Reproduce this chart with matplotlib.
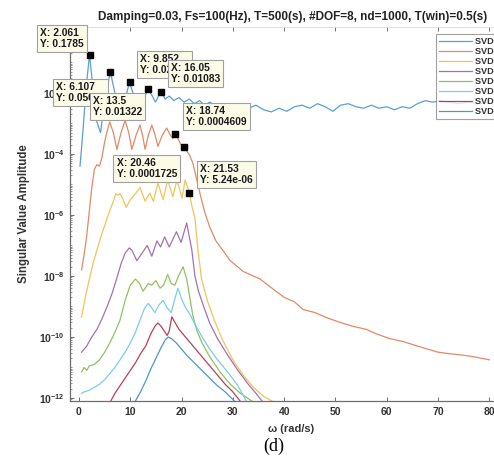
import numpy as np
import matplotlib
matplotlib.use("Agg")
import matplotlib.pyplot as plt
from matplotlib.ticker import FixedLocator, NullFormatter

plt.rcParams['font.family'] = ['Liberation Sans', 'DejaVu Sans']
plt.rcParams['mathtext.fontset'] = 'custom'
plt.rcParams['mathtext.rm'] = 'Liberation Sans:bold'
plt.rcParams['mathtext.default'] = 'rm'

# ---- datos (x en rad/s, y como log10 de la amplitud) ----
svd1_x = [0.2, 0.8, 1.4, 2.061, 2.7, 3.4, 4.2, 5.0, 6.107, 7.0, 8.0, 9.0, 9.852, 10.7, 11.7,
          12.6, 13.5, 14.3, 14.9, 15.5, 16.05, 16.8, 17.6, 18.5, 19.5, 20.5, 21.5, 22.5, 23.5,
          24.5, 25.5, 27, 28.5, 30, 31.5, 33, 34.5, 36, 37.5, 39, 40.5, 42, 43.5, 45, 46.5, 48,
          49.5, 51, 52.5, 54, 55.5, 57, 58.5, 60, 61.5, 63, 64.5, 66, 67.5, 69, 70.5, 72, 74, 76,
          78, 80]
svd1_y = [-4.4, -3.2, -1.8, -0.748, -1.8, -2.9, -3.3, -2.3, -1.296, -2.0, -2.7, -2.2, -1.64,
          -2.1, -2.55, -2.2, -1.879, -2.1, -2.3, -2.1, -1.965, -2.2, -2.1, -2.25, -2.15, -2.3,
          -2.2, -2.35, -2.25, -2.4, -2.3, -2.45, -2.35, -2.5, -2.4, -2.5, -2.4, -2.55, -2.62,
          -2.5, -2.6, -2.45, -2.4, -2.5, -2.35, -2.45, -2.6, -2.4, -2.35, -2.45, -2.5, -2.4,
          -2.5, -2.45, -2.55, -2.45, -2.5, -2.35, -2.25, -2.3, -2.25, -2.3, -2.35, -2.3, -2.35,
          -2.3]

svd2_x = [0.5, 1.0, 1.5, 2.0, 2.5, 3.0, 3.5, 4.0, 4.5, 5.0, 5.5, 6.0, 6.7, 7.4, 8.2, 9.0, 9.7,
          10.3, 11.1, 11.9, 12.4, 12.9, 13.5, 14.2, 14.8, 15.4, 16.2, 17.1, 17.7, 18.3, 18.74,
          19.3, 19.9, 20.46, 21.0, 21.6, 22.2, 22.9, 23.6, 24.5, 25.5, 26.7, 28.0, 29.5, 32.0,
          35.3, 38.0, 40.0, 42.0, 43.7, 46.0, 48.0, 50.5, 53.4, 56.0, 58.0, 60.5, 63.2, 66.0,
          68.0, 70.0, 72.3, 75.0, 77.0, 80.0]
svd2_y = [-7.8, -7.3, -6.7, -5.9, -5.1, -4.5, -4.35, -4.4, -4.1, -3.6, -3.25, -2.95, -3.3,
          -3.85, -3.3, -2.9, -3.3, -3.85, -3.4, -3.05, -3.4, -3.85, -3.4, -3.05, -3.35, -3.75,
          -3.4, -3.15, -3.35, -3.5, -3.336, -3.5, -3.7, -3.763, -3.9, -4.05, -4.3, -4.8, -5.3,
          -5.9, -6.4, -6.85, -7.15, -7.5, -7.85, -8.1, -8.45, -8.7, -8.85, -9.1, -9.2, -9.35,
          -9.5, -9.65, -9.75, -9.9, -10.05, -10.15, -10.3, -10.4, -10.5, -10.55, -10.6, -10.65,
          -10.75]

svd3_x = [0.5, 0.9, 1.3, 2.1, 2.8, 3.5, 4.3, 5.0, 5.8, 6.6, 7.2, 7.6, 8.0, 8.5, 9.2, 10.0,
          11.0, 11.9, 12.9, 13.8, 14.5, 15.4, 16.4, 17.3, 18.3, 19.1, 20.1, 20.7, 21.53, 22.0,
          22.6, 23.2, 23.9, 25.0, 26.5, 28.0, 30.0, 32.0, 34.0, 36.0, 37.6]
svd3_y = [-9.35, -9.0, -8.65, -8.05, -7.55, -7.15, -6.7, -6.35, -5.95, -5.6, -5.3, -5.35,
          -5.3, -5.45, -5.75, -5.5, -5.3, -5.1, -5.55, -5.28, -5.55, -4.95, -5.5, -4.85, -5.4,
          -4.85, -5.45, -4.85, -5.281, -5.7, -6.1, -7.15, -8.1, -8.8, -9.5, -10.1, -10.75,
          -11.25, -11.65, -11.95, -12.1]

svd4_x = [0.5, 1.5, 2.5, 3.5, 4.5, 5.5, 6.5, 7.5, 8.2, 9.0, 9.8, 10.3, 11.3, 12.3, 13.3, 14.2,
          15.2, 15.9, 16.7, 17.6, 19.0, 19.9, 21.0, 22.0, 22.6, 23.3, 24.3, 25.5, 27.0, 29.0,
          31.0, 33.0, 34.5, 35.7]
svd4_y = [-10.5, -10.3, -10.0, -9.75, -9.4, -9.0, -8.55, -8.0, -7.6, -7.25, -7.08, -7.15,
          -7.5, -7.25, -7.0, -7.35, -6.85, -7.05, -6.72, -7.05, -6.55, -6.9, -6.26, -7.15, -8.0,
          -8.5, -9.0, -9.55, -10.05, -10.6, -11.1, -11.55, -11.85, -12.1]

svd5_x = [0.5, 1.0, 1.5, 2.0, 3.0, 4.0, 5.0, 6.0, 7.0, 8.0, 9.0, 10.0, 11.0, 11.8, 12.5, 13.5,
          14.2, 15.0, 15.8, 16.5, 17.3, 18.0, 18.7, 19.4, 20.3, 21.0, 21.5, 22.2, 23.0, 24.0,
          25.5, 27.5, 29.5, 31.5, 33.7]
svd5_y = [-11.15, -11.0, -11.1, -10.95, -10.9, -10.75, -10.5, -10.2, -9.85, -9.45, -8.8, -8.3,
          -8.1, -8.25, -8.5, -8.25, -8.3, -8.15, -8.4, -8.3, -7.95, -8.25, -8.3, -8.0, -7.7,
          -8.1, -8.6, -9.3, -9.8, -10.2, -10.65, -11.15, -11.55, -11.85, -12.1]

svd6_x = [0.5, 1.0, 2.0, 3.0, 4.0, 5.0, 6.0, 7.0, 8.0, 9.0, 10.0, 11.0, 12.0, 12.8, 13.5, 14.2,
          14.8, 15.6, 16.4, 17.2, 18.0, 18.6, 19.3, 20.0, 20.8, 21.6, 22.5, 24.0, 25.5, 27.0,
          29.0, 31.0, 32.6]
svd6_y = [-11.85, -11.8, -11.75, -11.65, -11.55, -11.4, -11.2, -11.0, -10.75, -10.5, -10.2,
          -9.85, -9.4, -9.05, -8.9, -9.05, -9.2, -8.95, -8.8, -9.05, -9.2, -8.8, -8.4, -8.75,
          -9.05, -9.25, -9.55, -10.0, -10.4, -10.75, -11.15, -11.6, -12.1]

svd7_x = [6.2, 7.0, 8.0, 9.0, 10.0, 11.0, 12.0, 13.0, 14.0, 14.8, 15.4, 16.0, 16.6, 17.2, 17.6,
          18.1, 18.8, 19.5, 21.0, 22.5, 24.0, 25.5, 27.0, 28.5, 30.0, 31.4]
svd7_y = [-12.1, -11.85, -11.6, -11.35, -11.1, -10.85, -10.55, -10.3, -9.9, -9.65, -9.54,
          -9.65, -9.8, -9.95, -9.8, -9.34, -9.55, -9.75, -10.05, -10.35, -10.65, -10.95, -11.25,
          -11.55, -11.8, -12.1]

svd8_x = [11.0, 12.0, 13.0, 14.0, 15.0, 16.0, 16.8, 17.4, 18.0, 19.0, 20.0, 21.0, 22.5, 24.0,
          25.5, 27.0, 28.5, 30.3]
svd8_y = [-12.1, -11.8, -11.45, -11.05, -10.7, -10.35, -10.1, -10.0, -10.05, -10.2, -10.4,
          -10.6, -10.85, -11.1, -11.35, -11.6, -11.8, -12.1]

etiquetas = ['SVD 1', 'SVD 2', 'SVD 3', 'SVD 4', 'SVD 5', 'SVD 6', 'SVD 7', 'SVD 8']
colores = ['#5b9fd3', '#e08a68', '#efc45a', '#a272b2', '#93c062', '#7acdef', '#b8405a', '#4f95cc']

# datatips
tip_x = [2.061, 6.107, 9.852, 13.5, 16.05, 18.74, 20.46, 21.53]
tip_y = [0.1785, 0.05061, 0.02291, 0.01322, 0.01083, 0.0004609, 0.0001725, 5.24e-06]
tip_txt = ['X: 2.061\nY: 0.1785', 'X: 6.107\nY: 0.05061', 'X: 9.852\nY: 0.02291',
           'X: 13.5\nY: 0.01322', 'X: 16.05\nY: 0.01083', 'X: 18.74\nY: 0.0004609',
           'X: 20.46\nY: 0.0001725', 'X: 21.53\nY: 5.24e-06']
# desplazamiento del texto respecto al marcador (pixeles) y alineacion
tip_off = [(-5.6, 5.8), (-5.3, -10.5), (10.5, 7), (-6.3, -6.7), (9.7, 7.9), (10.9, 6.7),
           (-7, -11.3), (10.6, 8)]
tip_al = [('right', 'bottom'), ('right', 'top'), ('left', 'bottom'), ('right', 'top'),
          ('left', 'bottom'), ('left', 'bottom'), ('right', 'top'), ('left', 'bottom')]

series = [(svd1_x, svd1_y), (svd2_x, svd2_y), (svd3_x, svd3_y), (svd4_x, svd4_y),
          (svd5_x, svd5_y), (svd6_x, svd6_y), (svd7_x, svd7_y), (svd8_x, svd8_y)]

fig = plt.figure(figsize=(4.94, 4.61), dpi=100)
ax = fig.add_axes([70/494, 60/461, 446/494, 374/461])

for (x, y), c, lab in zip(series, colores, etiquetas):
    ax.plot(x, 10**np.array(y), color=c, lw=0.9, label=lab)

ax.set_yscale('log')
ax.set_xlim(-1.75, 85.2)
ax.set_ylim(10**-12.1, 10**0.164)

gris = '#6e6e6e'
for s in ['left', 'bottom']:
    ax.spines[s].set_color(gris)
    ax.spines[s].set_linewidth(0.9)
ax.spines['top'].set_color('#d8d8d8')
ax.spines['top'].set_linewidth(0.6)
ax.spines['right'].set_visible(False)

ax.set_xticks(np.arange(0, 81, 10))
ax.yaxis.set_major_locator(FixedLocator([10.0**k for k in range(-12, 1, 2)]))
menores = [m * 10.0**k for k in range(-13, 1) for m in range(1, 10)]
ax.yaxis.set_minor_locator(FixedLocator(menores))
ax.yaxis.set_minor_formatter(NullFormatter())
ax.set_yticklabels([r'$10^{%d}$' % k for k in range(-12, 1, 2)])
ax.tick_params(axis='both', which='major', direction='in', length=3, width=0.7,
               colors=gris, labelcolor='#333333', labelsize=7.5, top=True, pad=4)
ax.tick_params(axis='y', which='minor', direction='in', length=1.6, width=0.5, colors=gris)
for t in ax.get_xticklabels() + ax.get_yticklabels():
    t.set_fontweight('bold')

ax.set_title('Damping=0.03, Fs=100(Hz), T=500(s), #DOF=8, nd=1000, T(win)=0.5(s)',
             fontsize=8.5, fontweight='bold', color='#222222', pad=5)
ax.set_ylabel('Singular Value Amplitude', fontsize=8.3, fontweight='bold', color='#333333')
ax.yaxis.set_label_coords(-0.09, 0.5)
ax.set_xlabel('ω (rad/s)', fontsize=7.9, fontweight='bold', color='#333333')
ax.xaxis.set_label_coords(0.496, -0.062)

leg = ax.legend(loc='upper left', bbox_to_anchor=(436/494, (461-34)/461),
                bbox_transform=fig.transFigure, fontsize=6.6, frameon=True, fancybox=False,
                handlelength=3.6, handletextpad=0.4, labelspacing=0.12, borderpad=0.3,
                borderaxespad=0)
leg.get_frame().set_edgecolor('#8a8a8a')
leg.get_frame().set_linewidth(0.8)
for t in leg.get_texts():
    t.set_fontweight('bold')
    t.set_color('#333333')

ax.plot(tip_x, tip_y, 's', color='black', ms=4.5, zorder=5, clip_on=False)
for x, y, txt, (dx, dy), (ha, va) in zip(tip_x, tip_y, tip_txt, tip_off, tip_al):
    ax.annotate(txt, xy=(x, y), xytext=(dx*0.72, dy*0.72), textcoords='offset points',
                ha=ha, va=va, multialignment='left', fontsize=7.4, fontweight='bold',
                color='#1a1a1a', linespacing=1.1, zorder=6, annotation_clip=False,
                bbox=dict(boxstyle='square,pad=0.3', fc='#fbfbe8', ec='#a0a0a0', lw=0.8))

fig.text(0.555, 0.031, '(d)', fontsize=13, family='Liberation Serif', ha='center', va='center')

fig.savefig('out.png', dpi=100)
